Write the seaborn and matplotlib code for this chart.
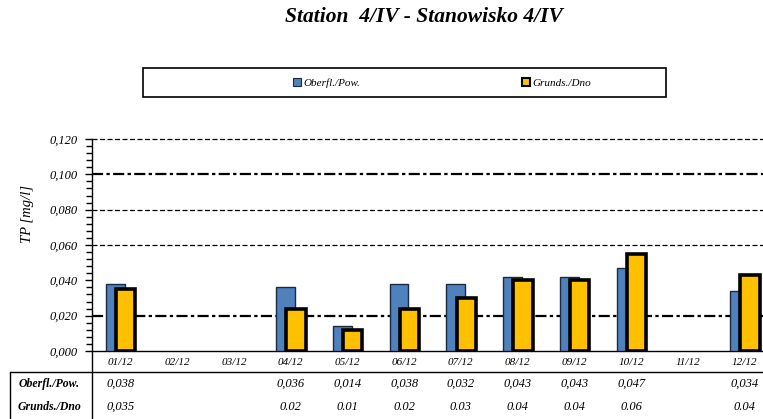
import numpy as np
import pandas as pd
import matplotlib.pyplot as plt
from matplotlib.lines import Line2D
from matplotlib.patches import Rectangle, Patch
import seaborn as sns

# data
months = ["01/12", "02/12", "03/12", "04/12", "05/12", "06/12",
          "07/12", "08/12", "09/12", "10/12", "11/12", "12/12"]
surface = [0.038, np.nan, np.nan, 0.036, 0.014, 0.038,
           0.038, 0.042, 0.042, 0.047, np.nan, 0.034]
bottom = [0.035, np.nan, np.nan, 0.024, 0.012, 0.024,
          0.030, 0.040, 0.040, 0.055, np.nan, 0.043]
surface_txt = ["0,038", "", "", "0,036", "0,014", "0,038",
               "0,032", "0,043", "0,043", "0,047", "", "0,034"]
bottom_txt = ["0,035", "", "", "0.02", "0.01", "0.02",
              "0.03", "0.04", "0.04", "0.06", "", "0.04"]
series_names = ["Oberfl./Pow.", "Grunds./Dno"]
title = "Station  4/IV - Stanowisko 4/IV"
ylabel = "TP [mg/l]"

blue = "#4F81BD"
yellow = "#FFC000"

sns.set_style("ticks")
plt.rcParams["font.family"] = ["Liberation Serif", "DejaVu Serif"]
plt.rcParams.update({"text.color": "black", "axes.labelcolor": "black",
                     "xtick.color": "black", "ytick.color": "black",
                     "axes.edgecolor": "black"})

df = pd.DataFrame({"pos": np.arange(len(months)), "surface": surface, "bottom": bottom})

fig = plt.figure(figsize=(7.63, 4.19), dpi=100)
ax = fig.add_axes([92 / 763, 1 - 351 / 419, (773 - 92) / 763, 212 / 419])

sns.barplot(x=df["pos"] - 0.09, y=df["surface"], native_scale=True, width=0.33,
            color=blue, saturation=1, edgecolor="#1a2a40", linewidth=1,
            errorbar=None, ax=ax, zorder=3)
sns.barplot(x=df["pos"] + 0.095, y=df["bottom"], native_scale=True, width=0.34,
            color=yellow, saturation=1, edgecolor="black", linewidth=2.6,
            errorbar=None, ax=ax, zorder=4)

ax.set_xlim(-0.5, 11.5)
ax.set_ylim(0, 0.12)

# grid lines
for y in [0.06, 0.08, 0.12]:
    ax.axhline(y, color="black", lw=0.9, ls=(0, (4, 2)), zorder=1, clip_on=False)
for y in [0.02, 0.10]:
    ax.axhline(y, color="black", lw=1.6, ls=(0, (5, 1.5, 1.5, 1.5)), zorder=1)

yt = np.arange(0, 0.121, 0.02)
ax.set_yticks(yt)
ax.set_yticklabels([f"{v:.3f}".replace(".", ",") for v in yt],
                   fontstyle="italic", fontsize=9)
ax.set_yticks(np.arange(0, 0.121, 0.004), minor=True)
ax.tick_params(axis="y", which="major", direction="out", length=5, width=1, pad=5)
ax.tick_params(axis="y", which="minor", direction="out", length=4, width=1)

ax.set_xticks(df["pos"])
ax.set_xticklabels(months, fontstyle="italic", fontsize=8)
ax.tick_params(axis="x", length=0, pad=5)
ax.set_xlabel("")
ax.set_ylabel("")

sns.despine(ax=ax, top=True, right=True)
ax.spines["left"].set_linewidth(1)
ax.spines["bottom"].set_linewidth(1)

fig.text(27 / 763, 1 - 214 / 419, ylabel, rotation=90, ha="center", va="center",
         fontstyle="italic", fontsize=10.5)

# data table below the axis
for i in range(len(months)):
    ax.text(i, -0.156, surface_txt[i], ha="center", va="center",
            fontstyle="italic", fontsize=9, transform=ax.get_xaxis_transform())
    ax.text(i, -0.264, bottom_txt[i], ha="center", va="center",
            fontstyle="italic", fontsize=9, transform=ax.get_xaxis_transform())
fig.text(49 / 763, 1 - 384 / 419, series_names[0], ha="center", va="center",
         fontstyle="italic", fontweight="bold", fontsize=8.5)
fig.text(49 / 763, 1 - 407 / 419, series_names[1], ha="center", va="center",
         fontstyle="italic", fontweight="bold", fontsize=8.5)
fig.add_artist(Line2D([10 / 763, 1], [1 - 372 / 419] * 2, color="black", lw=1))
fig.add_artist(Line2D([10 / 763] * 2, [0, 1 - 372 / 419], color="black", lw=1))
fig.add_artist(Line2D([92 / 763] * 2, [0, 1 - 351 / 419], color="black", lw=1))

# legend box
fig.add_artist(Rectangle((143 / 763, 1 - 97 / 419), (666 - 143) / 763, 29 / 419,
                         transform=fig.transFigure, facecolor="white",
                         edgecolor="black", lw=1.2))
handles = [Patch(facecolor=blue, edgecolor="#1a2a40", lw=0.8),
           Patch(facecolor=yellow, edgecolor="black", lw=1.5)]
fig.legend(handles, series_names, loc="center", bbox_to_anchor=(442 / 763, 1 - 83 / 419),
           ncol=2, frameon=False, handlelength=0.8, handleheight=0.8,
           handletextpad=0.2, columnspacing=14.5,
           prop={"style": "italic", "size": 8})

fig.text(424 / 763, 1 - 17 / 419, title, ha="center", va="center",
         fontstyle="italic", fontweight="bold", fontsize=15.5)

fig.savefig("out.png", dpi=100)
